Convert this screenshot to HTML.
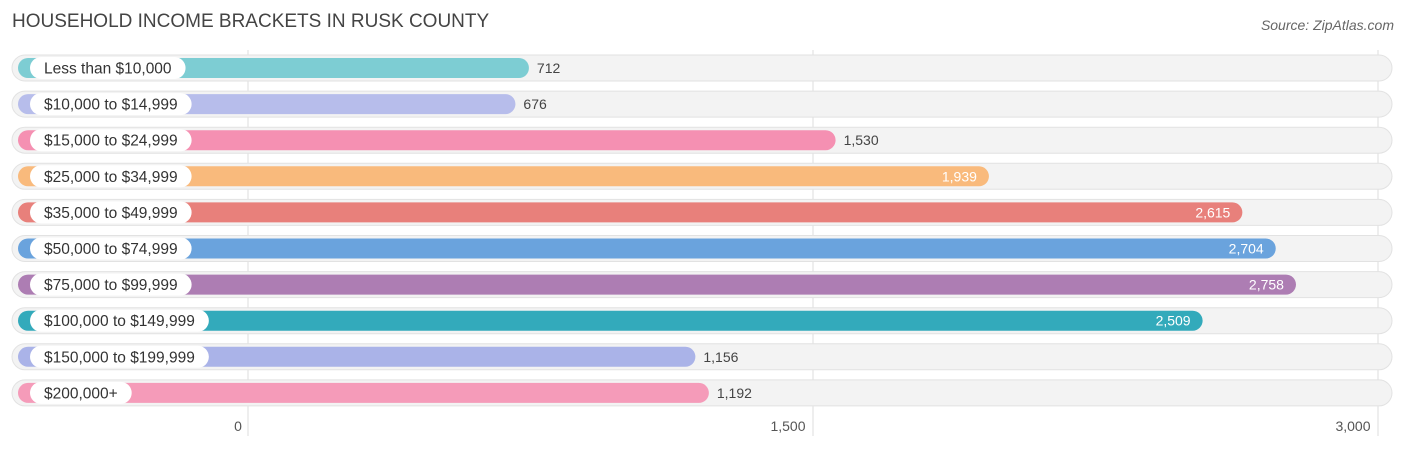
<!DOCTYPE html>
<html><head><meta charset="utf-8"><style>
body{margin:0;background:#fff;font-family:"Liberation Sans",sans-serif;}
</style></head><body>
<svg width="1406" height="449" xmlns="http://www.w3.org/2000/svg" id="chart">
<text x="12" y="27" font-size="19" fill="#444">HOUSEHOLD INCOME BRACKETS IN RUSK COUNTY</text>
<text x="1394" y="30" font-size="14" fill="#666" font-style="italic" text-anchor="end">Source: ZipAtlas.com</text>
<g id="grid"></g><g id="rows"></g><g id="ticks"></g>
</svg>
<script>
const categories=["Less than $10,000","$10,000 to $14,999","$15,000 to $24,999","$25,000 to $34,999","$35,000 to $49,999","$50,000 to $74,999","$75,000 to $99,999","$100,000 to $149,999","$150,000 to $199,999","$200,000+"];
const values=[712,676,1530,1939,2615,2704,2758,2509,1156,1192];
const tickValues=[0,1500,3000];
const tickLabels=["0","1,500","3,000"];
const colors=["#7dcdd3","#b7bdeb","#f590b2","#f9ba7c","#e8807b","#6aa3dd","#ad7db3","#33aabb","#aab3e8","#f59bb9"];
const NS="http://www.w3.org/2000/svg";
const svg=document.getElementById('chart');
function gx(v){return 248+v*(1130/3000);}
function bx(v){return 262+v*0.3749;}
function ry(i){return 68+i*36.1;}
function mk(t,a,p){const e=document.createElementNS(NS,t);for(const k in a)e.setAttribute(k,a[k]);p.appendChild(e);return e;}
const grid=document.getElementById('grid'),rows=document.getElementById('rows'),ticks=document.getElementById('ticks');
tickValues.forEach((v,i)=>{
 const l=mk('line',{x1:gx(v),x2:gx(v),y1:50,y2:436,stroke:'#ddd','stroke-width':1},grid);
 
 
 const t=mk('text',{x:gx(v)-10,y:431,'font-size':14,fill:'#555','text-anchor':i==0?'middle':'middle'},ticks);
 if(i>0)t.setAttribute('x',gx(v)-25);
 t.textContent=tickLabels[i];
 
 
});
categories.forEach((c,i)=>{
 const y=ry(i);
 const bg=mk('rect',{x:12,y:y-13,width:1380,height:26,rx:13,fill:'#f3f3f3',stroke:'#e2e2e2'},rows);
 
 
 const end=bx(values[i]);
 const b=mk('rect',{x:18,y:y-10,width:end-18,height:20,rx:10,fill:colors[i]},rows);
 
 
 const lt=mk('text',{x:44,y:y+5.5,'font-size':15.5,fill:'#333'},rows);
 lt.textContent=c;
 const w=lt.getComputedTextLength();
 const pill=mk('rect',{x:30,y:y-11,width:w+28,height:22,rx:11,fill:'#fff'},rows);
 rows.insertBefore(pill,lt);
 
 
 
 
 const inside=values[i]>1800;
 const vt=mk('text',{x:inside?end-12:end+8,y:y+5,'font-size':14,fill:inside?'#fff':'#444','text-anchor':inside?'end':'start'},rows);
 vt.textContent=values[i].toLocaleString('en-US');
 
 
});
</script>
</body></html>
